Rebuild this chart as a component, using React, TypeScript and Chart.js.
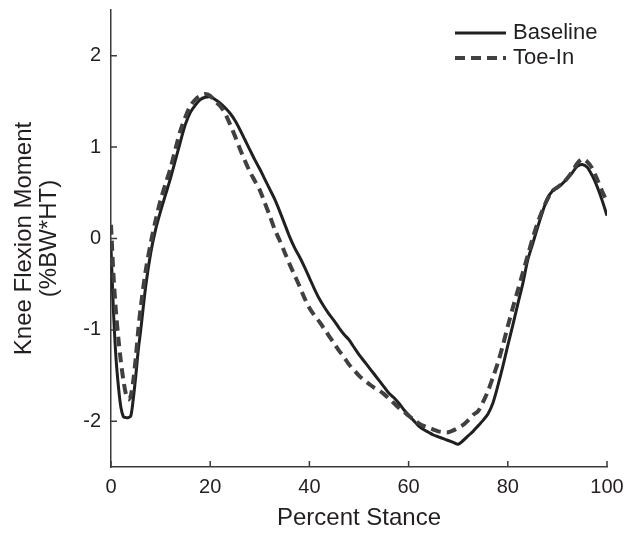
import React, { useEffect, useRef } from "react";
import { Chart, registerables } from "chart.js";

Chart.register(...registerables);

// Percent stance (x values shared by both series)
const stance: number[] = [
  0, 0.5, 1, 1.5, 2, 2.5, 3, 3.5, 4, 4.5, 5, 5.5, 6,
  7, 8, 9, 10, 11, 12, 13, 14, 15, 16, 17, 18, 19, 20,
  21, 22, 23, 24, 25, 26, 27, 28, 29, 30,
  31, 32, 33, 34, 35, 36, 37, 38, 39, 40,
  41, 42, 43, 44, 45, 46, 47, 48, 49, 50,
  51, 52, 53, 54, 55, 56, 57, 58, 59, 60,
  61, 62, 63, 64, 65, 66, 67, 68, 69, 70,
  71, 72, 73, 74, 75, 76, 77, 78, 79, 80,
  81, 82, 83, 84, 85, 86, 87, 88, 89, 90,
  91, 92, 93, 94, 95, 96, 97, 98, 99, 100,
];

// Knee flexion moment (%BW*HT)
const baseline: number[] = [
  -0.1, -0.8, -1.3, -1.62, -1.85, -1.95, -1.96, -1.96, -1.94, -1.75, -1.5, -1.22, -1.0,
  -0.52, -0.16, 0.1, 0.3, 0.48, 0.66, 0.86, 1.06, 1.25, 1.38, 1.46, 1.52, 1.545, 1.55,
  1.52, 1.48, 1.43, 1.37, 1.29, 1.19, 1.08, 0.97, 0.86, 0.76,
  0.65, 0.54, 0.43, 0.3, 0.16, 0.02, -0.1, -0.2, -0.31, -0.43,
  -0.55, -0.66, -0.75, -0.83, -0.9, -0.98, -1.05, -1.11, -1.19, -1.27,
  -1.34, -1.41, -1.48, -1.55, -1.62, -1.69, -1.74, -1.8, -1.87, -1.93,
  -1.99, -2.05, -2.09, -2.12, -2.15, -2.17, -2.19, -2.21, -2.23, -2.25,
  -2.21, -2.16, -2.11, -2.05, -1.99, -1.92, -1.8, -1.61, -1.4, -1.17,
  -0.95, -0.72, -0.5, -0.24, -0.06, 0.12, 0.29, 0.44, 0.52, 0.56,
  0.6, 0.66, 0.72, 0.79, 0.81, 0.78, 0.69, 0.57, 0.42, 0.25,
];

const toeIn: number[] = [
  0.15, -0.4, -0.8, -1.1, -1.35, -1.55, -1.7, -1.76, -1.72, -1.55, -1.3, -1.0, -0.75,
  -0.35, -0.05, 0.2, 0.42, 0.6, 0.77, 0.98, 1.18, 1.33, 1.45, 1.52, 1.56, 1.58, 1.56,
  1.5, 1.45, 1.37, 1.25, 1.12, 0.98, 0.85, 0.73, 0.63, 0.53,
  0.39, 0.25, 0.1, -0.02, -0.15, -0.28, -0.4, -0.52, -0.65, -0.76,
  -0.84, -0.91, -0.99, -1.07, -1.15, -1.23, -1.3, -1.38, -1.44, -1.5,
  -1.55, -1.59, -1.63, -1.66, -1.7, -1.75, -1.8, -1.85, -1.89, -1.94,
  -1.98, -2.02, -2.05, -2.07, -2.09, -2.11, -2.12, -2.12, -2.1, -2.07,
  -2.04, -1.99, -1.93, -1.89, -1.79, -1.67, -1.52, -1.36, -1.17, -0.96,
  -0.76, -0.57, -0.38, -0.19, 0.0, 0.17, 0.31, 0.43, 0.52, 0.56,
  0.6, 0.66, 0.73, 0.82, 0.87, 0.84, 0.77, 0.65, 0.52, 0.4,
];

const xTicks: number[] = [0, 20, 40, 60, 80, 100];
const yTicks: number[] = [-2, -1, 0, 1, 2];
const seriesLabels: string[] = ["Baseline", "Toe-In"];

const FONT = "'Liberation Sans', Arial, Helvetica, sans-serif";
const INK = "#231f20";

const inwardTicks = {
  id: "inwardTicks",
  afterDraw(chart: any) {
    const ctx = chart.ctx;
    const xs = chart.scales.x;
    const ys = chart.scales.y;
    const area = chart.chartArea;
    ctx.save();
    ctx.strokeStyle = "#3a3a3a";
    ctx.lineWidth = 1.5;
    ctx.beginPath();
    xTicks.forEach((v) => {
      const px = xs.getPixelForValue(v);
      ctx.moveTo(px, area.bottom);
      ctx.lineTo(px, area.bottom - 6);
    });
    yTicks.forEach((v) => {
      const py = ys.getPixelForValue(v);
      ctx.moveTo(area.left, py);
      ctx.lineTo(area.left + 6, py);
    });
    ctx.stroke();
    ctx.restore();
  },
};

const customLegend = {
  id: "customLegend",
  afterDraw(chart: any) {
    const ctx = chart.ctx;
    const area = chart.chartArea;
    const x0 = area.right - 152;
    const x1 = x0 + 51;
    const rows = [area.top + 23, area.top + 48];
    ctx.save();
    chart.data.datasets.forEach((ds: any, i: number) => {
      const y = rows[i];
      ctx.beginPath();
      ctx.strokeStyle = ds.borderColor;
      ctx.lineWidth = ds.borderWidth;
      ctx.setLineDash(ds.borderDash || []);
      ctx.moveTo(x0, y);
      ctx.lineTo(x1, y);
      ctx.stroke();
      ctx.setLineDash([]);
      ctx.fillStyle = INK;
      ctx.font = `22px ${FONT}`;
      ctx.textBaseline = "middle";
      ctx.textAlign = "left";
      ctx.fillText(ds.label, x1 + 7, y);
    });
    ctx.restore();
  },
};

export default function App() {
  const canvasRef = useRef<HTMLCanvasElement | null>(null);

  useEffect(() => {
    if (!canvasRef.current) return;
    const chart = new Chart(canvasRef.current, {
      type: "line",
      data: {
        datasets: [
          {
            label: seriesLabels[0],
            data: stance.map((x, i) => ({ x, y: baseline[i] })),
            borderColor: INK,
            borderWidth: 3,
            pointRadius: 0,
            tension: 0.3,
            fill: false,
            order: 1,
          },
          {
            label: seriesLabels[1],
            data: stance.map((x, i) => ({ x, y: toeIn[i] })),
            borderColor: "#404040",
            borderWidth: 4,
            borderDash: [10, 6],
            pointRadius: 0,
            tension: 0.3,
            fill: false,
            order: 0,
          },
        ],
      },
      options: {
        animation: false,
        responsive: true,
        maintainAspectRatio: false,
        layout: { padding: { top: 10, right: 33, left: 0, bottom: 0 } },
        plugins: {
          legend: { display: false },
          tooltip: { enabled: false },
        },
        scales: {
          x: {
            type: "linear",
            min: 0,
            max: 100,
            afterBuildTicks: (scale: any) => {
              scale.ticks = xTicks.map((v) => ({ value: v }));
            },
            afterFit: (scale: any) => {
              scale.height = 66;
              scale.paddingLeft = 0;
              scale.paddingRight = 0;
            },
            ticks: {
              font: { family: FONT, size: 20 },
              color: INK,
              padding: 8,
              maxRotation: 0,
            },
            grid: { display: true, drawOnChartArea: false, drawTicks: false },
            border: { display: true, color: "#3a3a3a", width: 1.5 },
            title: {
              display: true,
              text: "Percent Stance",
              font: { family: FONT, size: 24 },
              color: INK,
              padding: { top: 6, bottom: 0 },
            },
          },
          y: {
            type: "linear",
            min: -2.5,
            max: 2.5,
            afterBuildTicks: (scale: any) => {
              scale.ticks = yTicks.map((v) => ({ value: v }));
            },
            afterFit: (scale: any) => {
              scale.width = 111;
              scale.paddingTop = 0;
              scale.paddingBottom = 0;
            },
            ticks: {
              font: { family: FONT, size: 20 },
              color: INK,
              padding: 10,
            },
            grid: { display: true, drawOnChartArea: false, drawTicks: false },
            border: { display: true, color: "#3a3a3a", width: 1.5 },
            title: {
              display: true,
              text: ["Knee Flexion Moment", "(%BW*HT)"],
              font: { family: FONT, size: 24, lineHeight: 1.05 },
              color: INK,
              padding: { top: 12, bottom: 0 },
            },
          },
        },
      },
      plugins: [inwardTicks, customLegend],
    } as any);
    return () => chart.destroy();
  }, []);

  return (
    <div style={{ position: "absolute", left: 0, top: 0, width: 640, height: 533, background: "#fff" }}>
      <canvas ref={canvasRef} />
    </div>
  );
}
